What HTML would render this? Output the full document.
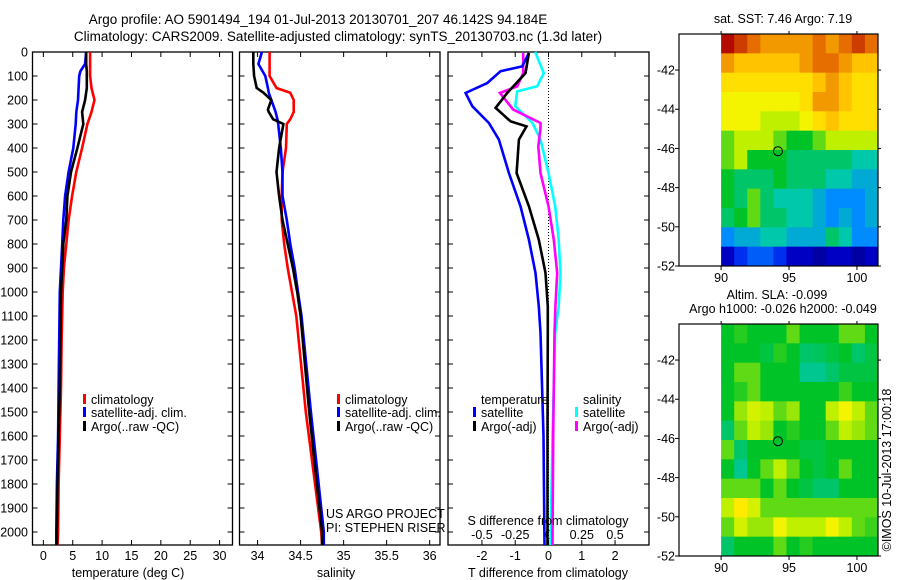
<!DOCTYPE html>
<html><head><meta charset="utf-8">
<style>
html,body{margin:0;padding:0;background:#fff;}
svg{display:block;font-family:"Liberation Sans",sans-serif;}
text{font-size:12.5px;fill:#000;}
</style></head>
<body>
<svg id="fig" width="900" height="580" viewBox="0 0 900 580">
<text x="318" y="24" text-anchor="middle" style="font-size:13.5px">Argo profile: AO 5901494_194 01-Jul-2013 20130701_207 46.142S 94.184E</text>
<text x="338" y="41" text-anchor="middle" style="font-size:13.5px">Climatology: CARS2009. Satellite-adjusted climatology: synTS_20130703.nc (1.3d later)</text>
<g id="g"></g>
</svg>
<script>
// ---------- DATA ----------
const tDepth = [0,50,80,100,150,200,250,300,400,500,600,700,800,900,1000,1200,1400,1600,1800,2000,2054];
const tClim  = [7.96,7.96,7.96,7.96,8.2,8.7,8.2,7.5,6.6,5.6,4.9,4.3,3.9,3.5,3.3,3.1,3.0,2.8,2.6,2.5,2.4];
const tSat   = [7.3,7.1,6.3,6.1,6.0,5.9,5.6,5.5,5.1,4.3,3.7,3.4,3.2,3.0,2.8,2.7,2.6,2.5,2.3,2.2,2.2];
const tArgo  = [7.3,7.3,7.4,7.4,7.4,7.1,6.6,6.8,5.8,4.7,4.1,3.9,3.4,3.2,3.0,2.9,2.8,2.6,2.4,2.3,2.3];
const sDepth = [0,50,100,150,170,200,240,250,280,300,400,500,600,700,800,900,1000,1100,1500,2000,2054];
const sClim  = [34.14,34.14,34.14,34.22,34.38,34.42,34.42,34.42,34.38,34.34,34.33,34.29,34.28,34.28,34.31,34.35,34.40,34.45,34.56,34.74,34.75];
const sSat   = [34.05,34.01,34.09,34.12,34.13,34.16,34.20,34.21,34.23,34.24,34.27,34.29,34.29,34.34,34.38,34.43,34.47,34.51,34.62,34.77,34.77];
const sArgo  = [33.95,33.95,33.96,33.99,34.07,34.16,34.12,34.13,34.18,34.30,34.25,34.22,34.25,34.29,34.35,34.41,34.46,34.50,34.60,34.75,34.75];
const dDepthTS = [4,60,80,129,171,226,296,365,504,643,782,921,1060,1171,1600,2054];
const dTSat    = [-0.59,-0.79,-1.44,-1.84,-2.49,-2.29,-1.79,-1.49,-1.19,-0.84,-0.59,-0.39,-0.29,-0.24,-0.15,-0.12];
const dDepthTA = [4,88,171,233,289,310,365,504,643,782,921,1060,1171,1600,2054];
const dTArgo   = [-0.59,-0.69,-1.24,-1.59,-1.14,-0.66,-0.89,-0.96,-0.59,-0.29,-0.09,-0.02,-0.02,-0.03,-0.03];
const dDepthS  = [0,88,143,164,226,296,365,504,643,782,921,1060,1171,1600,2054];
const dSSat    = [-0.10,-0.035,-0.085,-0.235,-0.25,-0.12,-0.06,0.0,0.05,0.077,0.09,0.077,0.05,0.03,0.015];
const dDepthSA = [4,88,143,171,240,296,317,393,504,643,782,921,1060,1171,1600,2054];
const dSArgo   = [-0.19,-0.19,-0.235,-0.365,-0.265,-0.06,-0.06,-0.077,-0.06,0.0,0.04,0.065,0.052,0.045,0.035,0.03];
const depthTicks = [0,100,200,300,400,500,600,700,800,900,1000,1100,1200,1300,1400,1500,1600,1700,1800,1900,2000];
const tempTicks = [0,5,10,15,20,25,30];
const salTicks = [34,34.5,35,35.5,36];
const salTickLabels = ["34","34.5","35","35.5","36"];
const dTTicks = [-2,-1,0,1,2];
const dSTicks = [-0.5,-0.25,0,0.25,0.5];
const dSTickLabels = ["-0.5","-0.25","0","0.25","0.5"];
const lonTicks = [90,95,100];
const latTicks = [-42,-44,-46,-48,-50,-52];
const sstGrid = [
[9.5,9,8.5,8,8,8,8,8.5,8,8.5,9,8.5],
[8,7.5,7.5,7.5,7.5,7.5,8,8.5,8.5,8,7.5,7.5],
[7,7,7,7,7,7,7,7.5,8,7.5,7,7],
[6.5,6.5,6.5,6.5,6.5,6.5,7,8,8,7.5,7,7],
[6.5,6.5,6.5,6,6,6,6.5,7,7.5,7,7,7],
[5.5,6,6,6,5.5,5,5,5.5,6,6,6,6],
[5.5,6,5,5,5,4.5,4.5,4.5,4.5,4.5,4,4],
[5,4.5,4.5,4.5,5,4.5,4.5,4.5,4,4,3.5,3.5],
[5,4.5,5.5,4.5,4,4,4,3.5,3,3,3,3.5],
[4.5,5,5.5,4.5,4.5,4,4,3.5,3,3.5,3,3.5],
[3,3.5,3.5,4,4,3.5,3.5,3.5,4.5,4,3,3],
[1,2,2.5,2.5,2,1,1,0.5,1,1,0.5,1]];
const slaGrid = [
[5,5.2,5,5,5,5.5,5,5,5,5.5,5.5,5],
[5,5,5,4.8,5.2,5,4.5,4.6,4.8,5,4.5,4.8],
[5,5.5,5.5,5,5,5,4.2,4.2,4.5,4.8,4.8,4.8],
[5,5.2,5.5,5,5,5,5,5,5,5.3,5,5],
[5,5.8,6.2,6,5.5,5.8,5,5,6,6.5,6,5.5],
[4.5,5.5,6,5.8,5,5.2,5,5,5.5,6,5.8,5.5],
[5.5,4.5,5,5,5,5,4.8,4.8,5,5,5,5],
[5,4.2,5,5.5,6,5.5,5,4.8,5,5.5,5,5],
[5.5,5.5,5.5,5,5.5,5,4.8,4.5,4.5,5,5,5],
[6,6.8,6.2,5.5,5.5,5.5,5.5,5.5,5.5,5.5,5.5,5.5],
[5.5,6.2,5.8,5.8,6.5,6,6,6,6.5,6,5.5,5.3],
[4.5,5,5,5,5.5,5,5.2,5,5,5,5,5]];
const floatLon = 94.184, floatLat = -46.142;

// ---------- DRAW ----------
const NS="http://www.w3.org/2000/svg";
const G=document.getElementById('g');
function mk(tag,attrs,parent){const e=document.createElementNS(NS,tag);for(const k in attrs)e.setAttribute(k,attrs[k]);(parent||G).appendChild(e);return e;}
function txt(x,y,s,anchor,parent){const t=mk('text',{x:x,y:y,'text-anchor':anchor||'middle'},parent);t.textContent=s;return t;}
const TOP=52, BOT=545;
const yD = d => TOP + d*0.24;

function panel(name,x0,x1,xmin,xmax){
  const sx = v => x0 + (v-xmin)/(xmax-xmin)*(x1-x0);
  const gp=mk('g',{});
  
  
  const r=mk('rect',{x:x0,y:TOP,width:x1-x0,height:BOT-TOP,fill:'none',stroke:'#000','stroke-width':1.3},gp);
  
  
  return {sx,gp,x0,x1};
}
function depthTicksOn(p,labels){
  depthTicks.forEach(d=>{
    const y=yD(d);
    mk('line',{x1:p.x0,y1:y,x2:p.x0+5,y2:y,stroke:'#000'},p.gp);
    mk('line',{x1:p.x1,y1:y,x2:p.x1-5,y2:y,stroke:'#000'},p.gp);
    if(labels){const t=txt(28,y+4.5,String(d),'end',p.gp);
      
      }
  });
}
function xTicks(p,vals,labs,yLab){
  vals.forEach((v,i)=>{
    const x=p.sx(v);
    mk('line',{x1:x,y1:BOT,x2:x,y2:BOT-5,stroke:'#000'},p.gp);
    mk('line',{x1:x,y1:TOP,x2:x,y2:TOP+5,stroke:'#000'},p.gp);
    if(labs){const t=txt(x,yLab,labs[i],'middle',p.gp);
      
      }
  });
}
function line(p,vals,depths,color,w,name,sx){
  const f=sx||p.sx;
  const pts=vals.map((v,i)=>f(v).toFixed(1)+','+yD(depths[i]).toFixed(1)).join(' ');
  const l=mk('polyline',{points:pts,fill:'none',stroke:color,'stroke-width':w,'stroke-linejoin':'miter'},p.gp);
  
  
}
function legend(p,x,y,color,label){
  const r=mk('rect',{x:x,y:y-10,width:3,height:10,fill:color},p.gp);
  
  
  const t=txt(x+8,y,label,'start',p.gp);
  
  
}

const p1=panel('temperature-panel',32.5,232.5,-1.85,32.2);
depthTicksOn(p1,true);
xTicks(p1,tempTicks,tempTicks.map(String),560);
line(p1,tClim,tDepth,'#f00',2.6,'temp-climatology-line');
line(p1,tSat,tDepth,'#00f',2.6,'temp-satellite-line');
line(p1,tArgo,tDepth,'#000',2.6,'temp-argo-line');
legend(p1,83,404,'#f00','climatology');
legend(p1,83,417,'#00f','satellite-adj. clim.');
legend(p1,83,431,'#000','Argo(..raw -QC)');
{const t=txt(128,577,'temperature (deg C)');}

const p2=panel('salinity-panel',239.5,440,33.79,36.12);
depthTicksOn(p2,false);
xTicks(p2,salTicks,salTickLabels,560);
line(p2,sClim,sDepth,'#f00',2.6,'sal-climatology-line');
line(p2,sSat,sDepth,'#00f',2.6,'sal-satellite-line');
line(p2,sArgo,sDepth,'#000',2.6,'sal-argo-line');
legend(p2,337,404,'#f00','climatology');
legend(p2,337,417,'#00f','satellite-adj. clim.');
legend(p2,337,431,'#000','Argo(..raw -QC)');
{const t=txt(326,518,'US ARGO PROJECT','start');
 const t2=txt(326,532,'PI: STEPHEN RISER','start');}
{const t=txt(336,577,'salinity');}

const p3=panel('difference-panel',448,649,-3.02,3.02);
const sxS = v => p3.sx(v*4);
depthTicksOn(p3,false);
xTicks(p3,dTTicks,dTTicks.map(String),560);
dSTicks.forEach((v,i)=>{const t=txt(sxS(v),539,dSTickLabels[i],'middle',p3.gp);});
mk('line',{x1:p3.sx(0),y1:TOP,x2:p3.sx(0),y2:BOT,stroke:'#000','stroke-dasharray':'1,2','stroke-width':1},p3.gp);
line(p3,dSSat,dDepthS,'#0ff',2.6,'sdiff-satellite-line',sxS);
line(p3,dSArgo,dDepthSA,'#f0f',2.6,'sdiff-argo-line',sxS);
line(p3,dTSat,dDepthTS,'#00f',2.6,'tdiff-satellite-line');
line(p3,dTArgo,dDepthTA,'#000',2.6,'tdiff-argo-line');
{const t=txt(481,404,'temperature','start',p3.gp);
 const t2=txt(583,404,'salinity','start',p3.gp);}
legend(p3,473,417,'#00f','satellite');
legend(p3,473,431,'#000','Argo(-adj)');
legend(p3,575,417,'#0ff','satellite');
legend(p3,575,431,'#f0f','Argo(-adj)');
{const t=txt(548,525,'S difference from climatology');
 const t2=txt(548,577,'T difference from climatology');}

// custom colormap matching reference look
const cmStops=[[0,[0,0,130]],[1.5,[0,0,230]],[3,[0,140,255]],[4,[0,200,170]],[5,[0,195,40]],[6,[190,240,0]],[6.6,[255,245,0]],[7.5,[255,195,0]],[8.5,[230,110,0]],[9.5,[180,10,0]],[10,[150,0,0]]];
function cmap(v){
  v=Math.max(0,Math.min(10,v));
  for(let i=0;i<cmStops.length-1;i++){
    const [a,ca]=cmStops[i],[b,cb]=cmStops[i+1];
    if(v<=b){const f=(v-a)/(b-a);return 'rgb('+ca.map((c,k)=>Math.round(c+(cb[k]-c)*f)).join(',')+')';}
  }
  return 'rgb(150,0,0)';
}
function mapPanel(name,yTop,yBot,grid,titleLines){
  const x0=679,x1=878,lonMin=86.9,lonMax=101.55,latTop=-40.16,latBot=-52.0;
  const sx=lon=>x0+(lon-lonMin)/(lonMax-lonMin)*(x1-x0);
  const sy=lat=>yTop+(latTop-lat)/(latTop-latBot)*(yBot-yTop);
  const gp=mk('g',{});
  
  
  const nr=grid.length, nc=grid[0].length;
  const lonStep=(lonMax-90)/nc, latStep=(latTop-latBot)/nr;
  grid.forEach((row,i)=>row.forEach((v,j)=>{
    const xa=sx(90+j*lonStep), xb=sx(90+(j+1)*lonStep);
    const ya=sy(latTop-i*latStep), yb=sy(latTop-(i+1)*latStep);
    const c=mk('rect',{x:xa,y:ya,width:xb-xa+0.5,height:yb-ya+0.5,fill:cmap(v)},gp);
    
    
  }));
  const f=mk('rect',{x:x0,y:yTop,width:x1-x0,height:yBot-yTop,fill:'none',stroke:'#000','stroke-width':1.2},gp);
  
  
  latTicks.forEach(l=>{const y=sy(l);
    mk('line',{x1:x0,y1:y,x2:x0-4,y2:y,stroke:'#000'},gp);
    mk('line',{x1:x1,y1:y,x2:x1+3,y2:y,stroke:'#000'},gp);
    const t=txt(675,y+4.5,String(l),'end',gp);
    
    });
  lonTicks.forEach(l=>{const x=sx(l);
    mk('line',{x1:x,y1:yBot,x2:x,y2:yBot+4,stroke:'#000'},gp);
    mk('line',{x1:x,y1:yTop,x2:x,y2:yTop-3,stroke:'#000'},gp);
    const t=txt(x,yBot+16,String(l),'middle',gp);
    
    });
  const c=mk('circle',{cx:sx(floatLon),cy:sy(floatLat),r:4.5,fill:'none',stroke:'#000','stroke-width':1},gp);
  
  
  titleLines.forEach((s,k)=>{const t=txt(titleLines.length>1&&k==0?777:783,yTop-(titleLines.length-k)*14+3,s,'middle',gp);
    
    });
}
mapPanel('sst-map',34,266,sstGrid,['sat. SST: 7.46 Argo: 7.19']);
mapPanel('sla-map',324,556,slaGrid,['Altim. SLA: -0.099','Argo h1000: -0.026 h2000: -0.049']);
{const t=txt(0,0,'\u00a9IMOS 10-Jul-2013 17:00:18','middle');
 t.setAttribute('transform','translate(891,470) rotate(-90)');
 
 }
</script>
</body></html>
